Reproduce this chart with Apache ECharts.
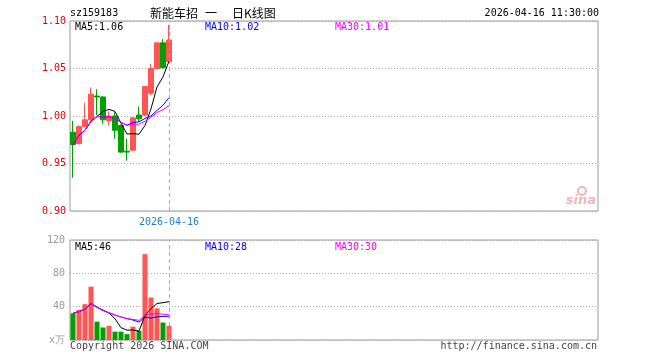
<!DOCTYPE html>
<html><head><meta charset="utf-8">
<script src="https://cdn.jsdelivr.net/npm/echarts@6/dist/echarts.min.js"></script>
<style>html,body{margin:0;padding:0;background:#fff}#c{width:660px;height:360px}</style>
</head><body><div id="c"></div>
<script>
const dates = ['2026-03-24','2026-03-25','2026-03-26','2026-03-27','2026-03-30','2026-03-31','2026-04-01','2026-04-02','2026-04-03','2026-04-07','2026-04-08','2026-04-09','2026-04-10','2026-04-13','2026-04-14','2026-04-15','2026-04-16'];
const opens  = [0.983,0.971,0.989,0.996,1.021,1.020,0.995,1.000,0.990,0.963,0.964,1.001,1.001,1.024,1.050,1.077,1.057];
const closes = [0.970,0.989,0.996,1.023,1.020,0.996,1.000,0.985,0.962,0.962,0.998,0.997,1.031,1.050,1.077,1.051,1.080];
const lows   = [0.935,0.970,0.988,0.995,1.001,0.992,0.990,0.976,0.961,0.953,0.963,0.994,1.000,1.022,1.050,1.050,1.057];
const highs  = [0.995,0.990,1.014,1.030,1.028,1.021,1.005,1.004,0.991,0.976,0.999,1.010,1.031,1.055,1.077,1.081,1.096];
const volumes = [32,36,43,64,22,15,17,10,10,7,16,11,103,51,38,21,17];
const ma5  = [0.970,0.9795,0.985,0.9945,0.9996,1.0048,1.007,1.0048,0.9926,0.981,0.9814,0.9808,0.990,1.0076,1.0306,1.0412,1.0578];
const ma10 = [0.970,0.9795,0.985,0.9945,0.9996,0.999,0.9991,0.9974,0.9934,0.9903,0.9931,0.9939,0.9974,1.0001,1.0058,1.0113,1.0193];
const ma30 = [0.970,0.9795,0.985,0.9945,0.9996,0.999,0.9991,0.9974,0.9934,0.9903,0.991,0.9915,0.9945,0.9985,1.0037,1.0067,1.011];
const vma5  = [32,34,37,43.75,39.4,36,32.2,25.6,14.8,11.8,12,10.8,29.4,37.6,43.8,44.8,46];
const vma10 = [32,34,37,43.75,39.4,35.33,32.71,29.88,27.67,25.6,24,21.5,27.5,26.2,27.8,28.4,28.4];
const vma30 = [32,34,37,43.75,39.4,35.33,32.71,29.88,27.67,25.6,24.73,23.58,29.69,31.21,31.67,31,30.18];
const priceMin = 0.90, priceMax = 1.10, priceStep = 0.05;
const volMin = 0, volMax = 120, volStep = 40;
const totalSlots = 88;
const lastDate = dates[dates.length - 1];

const cats = dates.concat(Array.from({length: totalSlots - dates.length}, (_, i) => '_' + i));
const UP = '#ff5555', DOWN = '#00a000';
const MONO = "'DejaVu Sans Mono', monospace";
const candleData = dates.map((d, i) => [opens[i], closes[i], lows[i], highs[i]]);
const volData = volumes.map((v, i) => ({value: v, itemStyle: {color: closes[i] >= opens[i] ? UP : DOWN}}));
const dashLine = {symbol: ['none','none'], silent: true, label: {show: false},
  lineStyle: {color: '#aaa', type: [4,3], width: 1}, data: [{xAxis: lastDate}]};

function txt(x, y, text, fill, font, align) {
  return {type: 'text', z: 100, style: {x, y, text, fill, font, align: align || 'left', verticalAlign: 'middle'}};
}

const chart = echarts.init(document.getElementById('c'));
chart.setOption({
  animation: false,
  grid: [
    {left: 70, top: 21, width: 528, height: 190, show: true, borderColor: '#999', borderWidth: 1},
    {left: 70, top: 240, width: 528, height: 100, show: true, borderColor: '#999', borderWidth: 1}
  ],
  xAxis: [
    {type: 'category', gridIndex: 0, data: cats, boundaryGap: true,
     axisLine: {show: false}, axisTick: {show: false}, splitLine: {show: false},
     axisLabel: {interval: 0, margin: 6, color: '#1a80d8', fontFamily: MONO, fontSize: 10,
       formatter: v => v === lastDate ? v : ''}},
    {type: 'category', gridIndex: 1, data: cats, boundaryGap: true,
     axisLine: {show: false}, axisTick: {show: false}, axisLabel: {show: false}, splitLine: {show: false}}
  ],
  yAxis: [
    {type: 'value', gridIndex: 0, min: priceMin, max: priceMax, interval: priceStep,
     axisLine: {show: false}, axisTick: {show: false},
     axisLabel: {color: '#e00000', fontFamily: MONO, fontSize: 10, margin: 4, formatter: v => v.toFixed(2)},
     splitLine: {show: true, lineStyle: {color: '#aaa', type: [1,2]}}},
    {type: 'value', gridIndex: 1, min: volMin, max: volMax, interval: volStep,
     axisLine: {show: false}, axisTick: {show: false},
     axisLabel: {color: '#999', fontFamily: MONO, fontSize: 10, margin: 5, formatter: v => v === 0 ? 'x万' : String(v)},
     splitLine: {show: true, lineStyle: {color: '#aaa', type: [1,2]}}}
  ],
  series: [
    {type: 'candlestick', xAxisIndex: 0, yAxisIndex: 0, data: candleData, barWidth: 5,
     itemStyle: {color: UP, color0: DOWN, borderColor: UP, borderColor0: DOWN, borderWidth: 1},
     markLine: dashLine},
    {type: 'line', xAxisIndex: 0, yAxisIndex: 0, data: ma5, symbol: 'none', lineStyle: {color: '#000', width: 1}},
    {type: 'line', xAxisIndex: 0, yAxisIndex: 0, data: ma10, symbol: 'none', lineStyle: {color: '#0000ff', width: 1}},
    {type: 'line', xAxisIndex: 0, yAxisIndex: 0, data: ma30, symbol: 'none', lineStyle: {color: '#ff00ff', width: 1}},
    {type: 'bar', xAxisIndex: 1, yAxisIndex: 1, data: volData, barWidth: 5, markLine: dashLine},
    {type: 'line', xAxisIndex: 1, yAxisIndex: 1, data: vma5, symbol: 'none', lineStyle: {color: '#000', width: 1}},
    {type: 'line', xAxisIndex: 1, yAxisIndex: 1, data: vma10, symbol: 'none', lineStyle: {color: '#0000ff', width: 1}},
    {type: 'line', xAxisIndex: 1, yAxisIndex: 1, data: vma30, symbol: 'none', lineStyle: {color: '#ff00ff', width: 1}}
  ],
  graphic: [
    txt(70, 13, 'sz159183', '#000', '10px ' + MONO),
    txt(150, 13, '新能车招', '#000', "12px 'Noto Sans CJK SC'"),
    txt(205, 13, '一', '#000', "12px 'Noto Sans CJK SC'"),
    txt(232, 13, '日K线图', '#000', "12px 'Noto Sans CJK SC'"),
    txt(599, 13, '2026-04-16 11:30:00', '#000', '10px ' + MONO, 'right'),
    txt(75, 27, 'MA5:' + ma5[ma5.length-1].toFixed(2), '#000', '10px ' + MONO),
    txt(205, 27, 'MA10:' + ma10[ma10.length-1].toFixed(2), '#0000ff', '10px ' + MONO),
    txt(335, 27, 'MA30:' + ma30[ma30.length-1].toFixed(2), '#ff00ff', '10px ' + MONO),
    txt(75, 247, 'MA5:' + Math.round(vma5[vma5.length-1]), '#000', '10px ' + MONO),
    txt(205, 247, 'MA10:' + Math.floor(vma10[vma10.length-1]), '#0000ff', '10px ' + MONO),
    txt(335, 247, 'MA30:' + Math.round(vma30[vma30.length-1]), '#ff00ff', '10px ' + MONO),
    txt(70, 346, 'Copyright 2026 SINA.COM', '#444', '10px ' + MONO),
    txt(597, 346, 'http://finance.sina.com.cn', '#444', '10px ' + MONO, 'right'),
    {type: 'circle', z: 100, shape: {cx: 582, cy: 191, r: 4}, style: {fill: 'none', stroke: '#f2b4b4', lineWidth: 2}},
    txt(596, 201, 'sina', '#f2b4b4', "italic bold 13px 'DejaVu Sans'", 'right')
  ]
});
</script></body></html>
